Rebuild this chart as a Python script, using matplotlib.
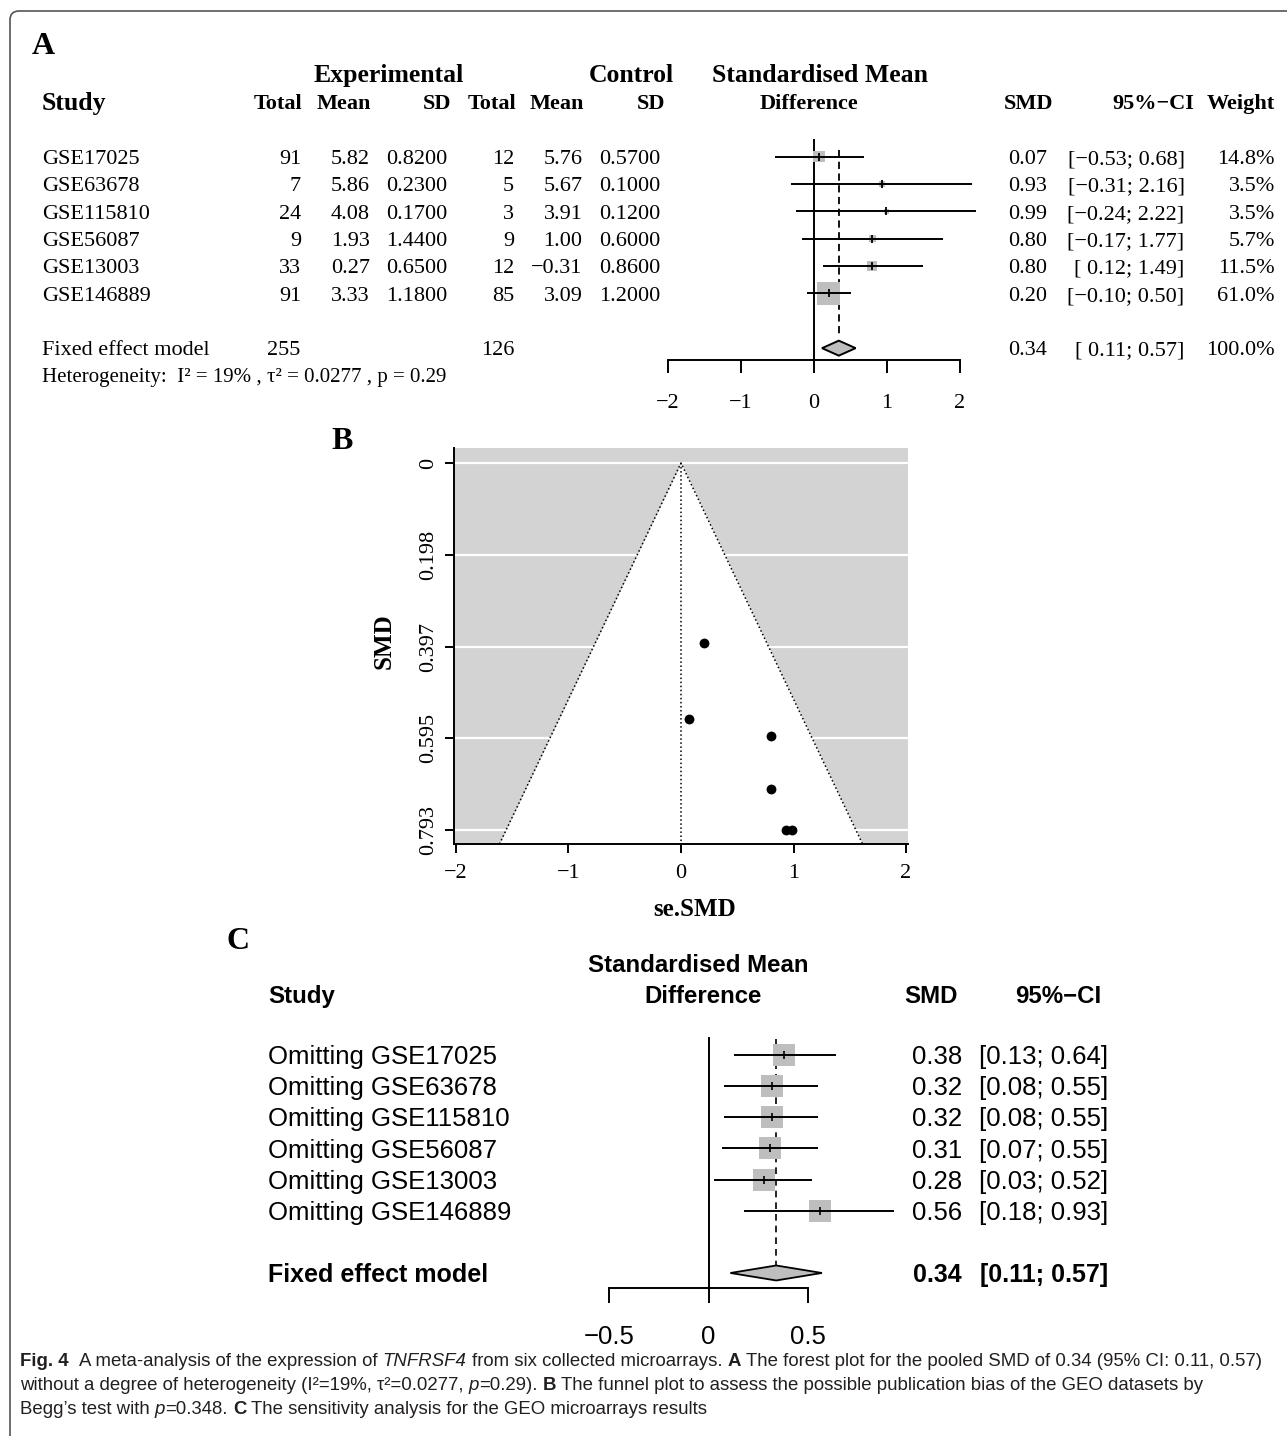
import numpy as np
import matplotlib
matplotlib.use("Agg")
import matplotlib.pyplot as plt
from matplotlib.transforms import Affine2D, blended_transform_factory, ScaledTranslation
from matplotlib.patches import FancyBboxPatch, Polygon
from matplotlib.font_manager import FontProperties, findfont

# ---------------- data: panel A (forest plot) ----------------
studies = ["GSE17025", "GSE63678", "GSE115810", "GSE56087", "GSE13003", "GSE146889"]
exp_total = [91, 7, 24, 9, 33, 91]
exp_mean = [5.82, 5.86, 4.08, 1.93, 0.27, 3.33]
exp_sd = [0.82, 0.23, 0.17, 1.44, 0.65, 1.18]
ctl_total = [12, 5, 3, 9, 12, 85]
ctl_mean = [5.76, 5.67, 3.91, 1.00, -0.31, 3.09]
ctl_sd = [0.57, 0.10, 0.12, 0.60, 0.86, 1.20]
smd = [0.07, 0.93, 0.99, 0.80, 0.80, 0.20]
ci_low = [-0.53, -0.31, -0.24, -0.17, 0.12, -0.10]
ci_high = [0.68, 2.16, 2.22, 1.77, 1.49, 0.50]
weight = [14.8, 3.5, 3.5, 5.7, 11.5, 61.0]
pooled = [0.34, 0.11, 0.57]          # SMD, lower, upper
pooled_n = [255, 126]
pooled_weight = 100.0
xticks_A = [-2, -1, 0, 1, 2]

# ---------------- data: panel B (funnel plot) ----------------
funnel_x = [0.20, 0.07, 0.80, 0.80, 0.93, 0.99]
funnel_y = [0.390, 0.553, 0.589, 0.704, 0.793, 0.793]
funnel_xticks = [-2, -1, 0, 1, 2]
funnel_yticks = [0, 0.198, 0.397, 0.595, 0.793]

# ---------------- data: panel C (sensitivity) ----------------
omit_labels = ["Omitting " + s for s in studies]
omit_smd = [0.38, 0.32, 0.32, 0.31, 0.28, 0.56]
omit_low = [0.13, 0.08, 0.08, 0.07, 0.03, 0.18]
omit_high = [0.64, 0.55, 0.55, 0.55, 0.52, 0.93]
xticks_C = [-0.5, 0, 0.5]

# ---------------- fonts ----------------
SERIF = "Liberation Serif"
SANS = "Liberation Sans"
try:
    findfont(FontProperties(family="Liberation Sans Narrow"), fallback_to_default=False)
    CAP_FONT = "Liberation Sans Narrow"
except Exception:
    CAP_FONT = SANS

plt.rcParams["font.family"] = SERIF
W, H, DPI = 1287, 1436, 100
fig = plt.figure(figsize=(W / DPI, H / DPI), dpi=DPI)
fig.patch.set_facecolor("white")
PX = Affine2D().scale(1.0 / W, -1.0 / H).translate(0, 1) + fig.transFigure


def add_axes_px(left, top, right, bottom):
    return fig.add_axes([left / W, 1 - bottom / H, (right - left) / W, (bottom - top) / H])


def put(x, y, s, tr=None, size=16, ha="left", family=SERIF, weight="normal",
        style="normal", cap=0.66, color="black"):
    tr = PX if tr is None else tr
    off = ScaledTranslation(0, -cap * size / 72.0 / 2.0, fig.dpi_scale_trans)
    return fig.text(x, y, s, transform=tr + off, ha=ha, va="baseline", fontsize=size,
                    family=family, weight=weight, style=style, color=color)


def mfmt(v, nd=2):
    return f"{v:.{nd}f}".replace("-", "\u2212")


def tick_str(v):
    return f"{v:g}".replace("-", "\u2212")


# ---------------- outer frame ----------------
frame = FancyBboxPatch((10, 11), 1400, 1500, boxstyle="round,pad=0,rounding_size=9",
                       transform=PX, fill=False, edgecolor="#555555", lw=1.2, clip_on=False)
fig.add_artist(frame)

# =============== PANEL A ===============
A_y0, A_dy = 156.7, 27.35
rA_top, rA_bot = -4.5, 9.7
axA = add_axes_px(668, A_y0 + A_dy * rA_top, 960, A_y0 + A_dy * rA_bot)
axA.set_xlim(xticks_A[0], xticks_A[-1])
axA.set_ylim(rA_bot, rA_top)
axA.patch.set_visible(False)
for s in ("top", "left", "right"):
    axA.spines[s].set_visible(False)
rows = np.arange(len(studies))
fixed_row = len(studies) + 1
axis_row_A = fixed_row + 0.45
axA.spines["bottom"].set_position(("data", axis_row_A))
axA.spines["bottom"].set_bounds(xticks_A[0], xticks_A[-1])
axA.spines["bottom"].set_linewidth(1.4)
axA.set_yticks([])
axA.set_xticks(xticks_A)
axA.set_xticklabels([tick_str(t) for t in xticks_A])
axA.tick_params(axis="x", direction="out", length=9.4, width=1.4, pad=15, labelsize=16)

axA.plot([0, 0], [-0.6, axis_row_A], color="black", lw=1.4, zorder=2, clip_on=False)
axA.plot([pooled[0]] * 2, [-0.25, fixed_row - 0.4], color="black", lw=1.3,
         ls=(0, (4, 2.5)), zorder=2)
sides = 23 * np.sqrt(np.array(weight) / max(weight)) * 0.72
axA.scatter(smd, rows, marker="s", s=sides ** 2, color="#BEBEBE", linewidths=0, zorder=3,
            clip_on=False)
axA.hlines(rows, ci_low, ci_high, color="black", lw=1.4, zorder=4, clip_on=False)
axA.scatter(smd, rows, marker="|", s=(8 * 0.72) ** 2, color="black", linewidths=1.3, zorder=5,
            clip_on=False)
hA = 7.5 / A_dy
axA.add_patch(Polygon([(pooled[1], fixed_row), (pooled[0], fixed_row - hA),
                       (pooled[2], fixed_row), (pooled[0], fixed_row + hA)],
                      closed=True, facecolor="#BEBEBE", edgecolor="black", lw=1.4, zorder=4,
                      clip_on=False))

tA = blended_transform_factory(PX, axA.transData)
put(43.5, 43, "A", size=23, weight="bold", ha="center")
# headers
hr1, hr2 = -3.05, -2.0
put(388.3, hr1, "Experimental", tA, size=18.5, weight="bold", ha="center")
put(631, hr1, "Control", tA, size=18.5, weight="bold", ha="center")
put(820.3, hr1, "Standardised Mean", tA, size=18.5, weight="bold", ha="center")
put(42, hr2, "Study", tA, size=18.5, weight="bold")
for x, s in [(302, "Total"), (371, "Mean"), (451, "SD"), (516, "Total"), (584, "Mean"),
             (665, "SD"), (1053, "SMD"), (1194, "95%\u2212CI"), (1275, "Weight")]:
    put(x, hr2, s, tA, size=16, weight="bold", ha="right")
put(809.5, hr2, "Difference", tA, size=16, weight="bold", ha="center")

any_neg = any(v < 0 for v in ci_low)


def ci_str(lo, hi):
    ls = mfmt(lo)
    if any_neg and lo >= 0:
        ls = " " + ls
    return f"[{ls}; {mfmt(hi)}]"


for i in rows:
    put(42, i, studies[i], tA)
    put(301, i, str(exp_total[i]), tA, ha="right")
    put(370, i, mfmt(exp_mean[i]), tA, ha="right")
    put(447, i, mfmt(exp_sd[i], 4), tA, ha="right")
    put(514, i, str(ctl_total[i]), tA, ha="right")
    put(582.6, i, mfmt(ctl_mean[i]), tA, ha="right")
    put(660.7, i, mfmt(ctl_sd[i], 4), tA, ha="right")
    put(1047, i, mfmt(smd[i]), tA, ha="right")
    put(1184.5, i, ci_str(ci_low[i], ci_high[i]), tA, ha="right")
    put(1275, i, f"{weight[i]:.1f}%", tA, ha="right")

put(42, fixed_row, "Fixed effect model", tA)
put(300, fixed_row, str(pooled_n[0]), tA, ha="right")
put(514, fixed_row, str(pooled_n[1]), tA, ha="right")
put(1047, fixed_row, mfmt(pooled[0]), tA, ha="right")
put(1184.5, fixed_row, ci_str(pooled[1], pooled[2]), tA, ha="right")
put(1275, fixed_row, f"{pooled_weight:.1f}%", tA, ha="right")
put(42, fixed_row + 1, "Heterogeneity:  I\u00b2 = 19% , \u03c4\u00b2 = 0.0277 , p = 0.29", tA, size=15)

# =============== PANEL B ===============
axB = add_axes_px(454.3, 448, 907.7, 844)
xB = (-2.015, 2.015)
yB = (0.8233, -0.0324)
axB.set_xlim(*xB)
axB.set_ylim(*yB)
axB.set_facecolor("#D3D3D3")
axB.hlines(funnel_yticks, xB[0], xB[1], color="white", lw=1.6, zorder=1)
yb = yB[0]
axB.fill_betweenx([0, yb], [0, -1.96 * yb], [0, 1.96 * yb], color="white", lw=0, zorder=2)
axB.plot([-1.96 * yb, 0, 1.96 * yb], [yb, 0, yb], color="black", ls=":", lw=1.1, zorder=3)
axB.plot([0, 0], [0, yb], color="black", ls=":", lw=1.1, zorder=3)
axB.scatter(funnel_x, funnel_y, s=50, color="black", linewidths=0, zorder=4)
for s in ("top", "right"):
    axB.spines[s].set_visible(False)
for s in ("left", "bottom"):
    axB.spines[s].set_linewidth(1.4)
axB.set_xticks(funnel_xticks)
axB.set_xticklabels([tick_str(t) for t in funnel_xticks])
axB.set_yticks(funnel_yticks)
axB.set_yticklabels([f"{t:g}" for t in funnel_yticks])
axB.tick_params(axis="both", direction="out", length=6.7, width=1.4, labelsize=16)
axB.tick_params(axis="x", pad=8)
axB.tick_params(axis="y", pad=5)
for lab in axB.get_yticklabels():
    lab.set_rotation(90)
    lab.set_va("center")
put(342, 438, "B", size=23, weight="bold", ha="center")
fig.text(384 / W, 1 - 641 / H, "SMD", rotation=90, ha="center", va="center",
         fontsize=18, weight="bold", family=SERIF)
put(695, 908, "se.SMD", size=18, weight="bold", ha="center")

# =============== PANEL C ===============
C_y0, C_dy = 1055, 31.14
rC_top, rC_bot = -4.0, 9.5
axC = add_axes_px(609, C_y0 + C_dy * rC_top, 808, C_y0 + C_dy * rC_bot)
axC.set_xlim(xticks_C[0], xticks_C[-1])
axC.set_ylim(rC_bot, rC_top)
axC.patch.set_visible(False)
for s in ("top", "left", "right"):
    axC.spines[s].set_visible(False)
rowsC = np.arange(len(omit_labels))
fixed_rowC = len(omit_labels) + 1
axis_row_C = fixed_rowC + 0.48
axC.spines["bottom"].set_position(("data", axis_row_C))
axC.spines["bottom"].set_bounds(xticks_C[0], xticks_C[-1])
axC.spines["bottom"].set_linewidth(1.4)
axC.set_yticks([])
axC.set_xticks(xticks_C)
axC.set_xticklabels([tick_str(t) for t in xticks_C])
axC.tick_params(axis="x", direction="out", length=10.8, width=1.4, pad=16, labelsize=18.5)
for lab in axC.get_xticklabels():
    lab.set_fontfamily(SANS)

axC.plot([0, 0], [-0.55, axis_row_C], color="black", lw=1.4, zorder=2)
axC.plot([pooled[0]] * 2, [-0.5, fixed_rowC - 0.25], color="black", lw=1.2,
         ls=(0, (4, 3)), zorder=2)
axC.scatter(omit_smd, rowsC, marker="s", s=(23 * 0.72) ** 2, color="#BEBEBE", linewidths=0,
            zorder=3, clip_on=False)
axC.hlines(rowsC, omit_low, omit_high, color="black", lw=1.4, zorder=4, clip_on=False)
axC.scatter(omit_smd, rowsC, marker="|", s=(8 * 0.72) ** 2, color="black", linewidths=1.2,
            zorder=5, clip_on=False)
hC = 7.5 / C_dy
axC.add_patch(Polygon([(pooled[1], fixed_rowC), (pooled[0], fixed_rowC - hC),
                       (pooled[2], fixed_rowC), (pooled[0], fixed_rowC + hC)],
                      closed=True, facecolor="#BEBEBE", edgecolor="black", lw=1.3, zorder=4,
                      clip_on=False))

tC = blended_transform_factory(PX, axC.transData)
put(237.5, 938, "C", size=23, weight="bold", ha="center")
put(698.6, -2.94, "Standardised Mean", tC, size=17.3, family=SANS, weight="bold", ha="center", cap=0.716)
put(268, -1.96, "Study", tC, size=17.3, family=SANS, weight="bold", cap=0.716)
put(703.5, -1.96, "Difference", tC, size=17.3, family=SANS, weight="bold", ha="center", cap=0.716)
put(930.9, -1.96, "SMD", tC, size=17.3, family=SANS, weight="bold", ha="center", cap=0.716)
put(1058, -1.96, "95%\u2212CI", tC, size=17.3, family=SANS, weight="bold", ha="center", cap=0.716)
for i in rowsC:
    put(268, i, omit_labels[i], tC, size=18.5, family=SANS, cap=0.716)
    put(962, i, f"{omit_smd[i]:.2f}", tC, size=18.5, family=SANS, ha="right", cap=0.716)
    put(1108.6, i, f"[{omit_low[i]:.2f}; {omit_high[i]:.2f}]", tC, size=18.5, family=SANS,
        ha="right", cap=0.716)
put(268, fixed_rowC, "Fixed effect model", tC, size=18, family=SANS, weight="bold", cap=0.716)
put(962, fixed_rowC, f"{pooled[0]:.2f}", tC, size=18, family=SANS, weight="bold", ha="right", cap=0.716)
put(1108.6, fixed_rowC, f"[{pooled[1]:.2f}; {pooled[2]:.2f}]", tC, size=18, family=SANS,
    weight="bold", ha="right", cap=0.716)

# =============== CAPTION ===============
cap_lines = [
    [("Fig. 4", "bold"), ("  A meta-analysis of the expression of ", "normal"), ("TNFRSF4", "italic"),
     (" from six collected microarrays. ", "normal"), ("A", "bold"),
     (" The forest plot for the pooled SMD of 0.34 (95% CI: 0.11, 0.57)", "normal")],
    [("without a degree of heterogeneity (I\u00b2=19%, \u03c4\u00b2=0.0277, ", "normal"), ("p", "italic"),
     ("=0.29). ", "normal"), ("B", "bold"),
     (" The funnel plot to assess the possible publication bias of the GEO datasets by", "normal")],
    [("Begg\u2019s test with ", "normal"), ("p", "italic"), ("=0.348. ", "normal"), ("C", "bold"),
     (" The sensitivity analysis for the GEO microarrays results", "normal")],
]
cap_y = [1359, 1383, 1407]
cap_x0, cap_x1 = 20, 1267
renderer = fig.canvas.get_renderer()


def fp(size, kind):
    return FontProperties(family=CAP_FONT, size=size,
                          weight="bold" if kind == "bold" else "normal",
                          style="italic" if kind == "italic" else "normal")


def text_w(s, size, kind):
    if not s:
        return 0.0
    w, h, d = renderer.get_text_width_height_descent(s, fp(size, kind), ismath=False)
    return w


def run_layout(runs, size, y=None):
    sp = text_w("a a", size, "normal") - text_w("aa", size, "normal")
    x = cap_x0
    for s, kind in runs:
        core = s.strip(" ")
        lead = len(s) - len(s.lstrip(" "))
        trail = len(s) - len(s.rstrip(" "))
        x += lead * sp
        if y is not None and core:
            put(x, y, core, size=size, family=CAP_FONT,
                weight="bold" if kind == "bold" else "normal",
                style="italic" if kind == "italic" else "normal", cap=0.70, color="#231f20")
        x += text_w(core, size, kind) + trail * sp
    return x - cap_x0


base = 12.0
wnat = run_layout(cap_lines[0], base)
cap_size = base * (cap_x1 - cap_x0) / wnat
for runs, y in zip(cap_lines, cap_y):
    run_layout(runs, cap_size, y)

fig.savefig("out.png", dpi=DPI)
